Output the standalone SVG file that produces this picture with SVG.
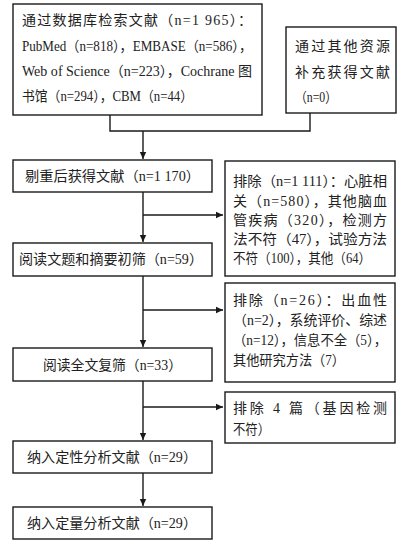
<svg xmlns="http://www.w3.org/2000/svg" width="403" height="546" viewBox="0 0 403 546">
<style>
.b{fill:#fff;stroke:#1a1a1a;stroke-width:1.4}
text{font-family:"Liberation Serif","Noto Sans CJK SC",serif;font-size:14px;fill:#222}
.c path{fill:none;stroke:#1a1a1a;stroke-width:1.4}
</style>
<defs>
<marker id="ah" markerWidth="8" markerHeight="8" refX="7" refY="4" orient="auto" markerUnits="userSpaceOnUse">
<path d="M0,0.8 L7,4 L0,7.2 Z" fill="#1a1a1a"/>
</marker>
</defs>
<rect width="403" height="546" fill="#fff"/>
<g class="c" id="connectors">
<path d="M110,115 V131 H310 V113"/>
<path d="M143,131 V159" marker-end="url(#ah)"/>
<path d="M143,192 V242" marker-end="url(#ah)"/>
<path d="M143,215 H223" marker-end="url(#ah)"/>
<path d="M143,276 V347" marker-end="url(#ah)"/>
<path d="M143,310 H223" marker-end="url(#ah)"/>
<path d="M143,381 V440" marker-end="url(#ah)"/>
<path d="M143,407 H223" marker-end="url(#ah)"/>
<path d="M143,473 V506" marker-end="url(#ah)"/>
</g>
<g id="n1">
<rect class="b" x="13" y="4" width="249" height="111"/>
<text x="22" y="25" textLength="230" lengthAdjust="spacing">通过数据库检索文献（n=1 965）：</text>
<text x="22" y="51" textLength="230" lengthAdjust="spacingAndGlyphs">PubMed（n=818），EMBASE（n=586），</text>
<text x="22" y="76" textLength="230" lengthAdjust="spacingAndGlyphs">Web of Science（n=223），Cochrane 图</text>
<text x="22" y="101" textLength="171" lengthAdjust="spacingAndGlyphs">书馆（n=294），CBM（n=44）</text>
</g>
<g id="n2">
<rect class="b" x="286" y="27" width="110" height="86"/>
<text x="295" y="51" textLength="95" lengthAdjust="spacing">通过其他资源</text>
<text x="295" y="77" textLength="95" lengthAdjust="spacing">补充获得文献</text>
<text x="295" y="102" textLength="42" lengthAdjust="spacingAndGlyphs">（n=0）</text>
</g>
<g id="n3">
<rect class="b" x="13" y="160" width="199" height="32"/>
<text x="25" y="181" textLength="175" lengthAdjust="spacingAndGlyphs">剔重后获得文献（n=1 170）</text>
</g>
<g id="e1">
<rect class="b" x="225" y="161" width="170" height="115"/>
<text x="233" y="186" textLength="154" lengthAdjust="spacingAndGlyphs">排除（n=1 111）：心脏相</text>
<text x="233" y="206" textLength="154" lengthAdjust="spacing">关（n=580），其他脑血</text>
<text x="233" y="225" textLength="154" lengthAdjust="spacing">管疾病（320），检测方</text>
<text x="233" y="244" textLength="154" lengthAdjust="spacingAndGlyphs">法不符（47），试验方法</text>
<text x="233" y="263" textLength="138" lengthAdjust="spacingAndGlyphs">不符（100），其他（64）</text>
</g>
<g id="n4">
<rect class="b" x="13" y="243" width="199" height="33"/>
<text x="19" y="264" textLength="184" lengthAdjust="spacingAndGlyphs">阅读文题和摘要初筛（n=59）</text>
</g>
<g id="e2">
<rect class="b" x="225" y="283" width="170" height="99"/>
<text x="233" y="305" textLength="154" lengthAdjust="spacing">排除（n=26）：出血性</text>
<text x="233" y="325" textLength="154" lengthAdjust="spacingAndGlyphs">（n=2），系统评价、综述</text>
<text x="233" y="345" textLength="154" lengthAdjust="spacingAndGlyphs">（n=12），信息不全（5），</text>
<text x="233" y="365" textLength="112" lengthAdjust="spacingAndGlyphs">其他研究方法（7）</text>
</g>
<g id="n5">
<rect class="b" x="13" y="348" width="199" height="33"/>
<text x="43" y="370" textLength="139" lengthAdjust="spacingAndGlyphs">阅读全文复筛（n=33）</text>
</g>
<g id="e3">
<rect class="b" x="225" y="392" width="170" height="51"/>
<text x="233" y="413" textLength="154" lengthAdjust="spacing">排除 4 篇（基因检测</text>
<text x="233" y="434" textLength="37" lengthAdjust="spacingAndGlyphs">不符）</text>
</g>
<g id="n6">
<rect class="b" x="13" y="441" width="199" height="32"/>
<text x="27" y="462" textLength="170" lengthAdjust="spacingAndGlyphs">纳入定性分析文献（n=29）</text>
</g>
<g id="n7">
<rect class="b" x="13" y="507" width="199" height="32"/>
<text x="27" y="528" textLength="170" lengthAdjust="spacingAndGlyphs">纳入定量分析文献（n=29）</text>
</g>
</svg>
